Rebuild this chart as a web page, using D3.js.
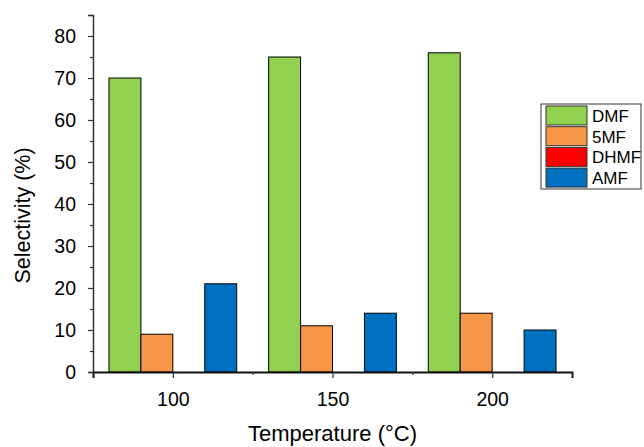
<!DOCTYPE html>
<html>
<head>
<meta charset="utf-8">
<script src="https://cdn.jsdelivr.net/npm/d3@7"></script>
<style>
  html, body { margin: 0; padding: 0; background: #fff; }
  svg { display: block; font-family: "Liberation Sans", Arial, sans-serif; }
</style>
</head>
<body>
<svg id="chart" width="644" height="447"></svg>
<script>
// Reaction temperatures (°C) and product selectivities (%)
const temperatures = [100, 150, 200];
const seriesNames = ["DMF", "5MF", "DHMF", "AMF"];
const seriesColors = ["#92D050", "#F79646", "#FF0000", "#0070C0"];
const dmfValues  = [70, 75, 76];
const mfValues   = [9, 11, 14];
const dhmfValues = [0, 0, 0];
const amfValues  = [21, 14, 10];
const xTickValues = [100, 150, 200];
const yTickValues = [0, 10, 20, 30, 40, 50, 60, 70, 80];

const seriesValues = [dmfValues, mfValues, dhmfValues, amfValues];
// Each bar spans 10 °C; the four series sit side by side around each temperature
const barSpan = 10;
const seriesOffsets = [-20, -10, 0, 10];

const svg = d3.select("#chart");
const margin = { left: 93, right: 72, top: 15, bottom: 75 };
const W = 644, H = 447;

const x = d3.scaleLinear().domain([75, 225]).range([margin.left, W - margin.right]);
const y = d3.scaleLinear().domain([0, 85]).range([H - margin.bottom, margin.top]);

// Bars
const bars = [];
seriesValues.forEach((vals, si) => {
  vals.forEach((v, ti) => {
    bars.push({ s: si, t: temperatures[ti], v });
  });
});
svg.append("g").selectAll("rect")
  .data(bars.filter(d => d.v > 0))
  .join("rect")
  .attr("x", d => x(d.t + seriesOffsets[d.s]))
  .attr("width", d => x(d.t + seriesOffsets[d.s] + barSpan) - x(d.t + seriesOffsets[d.s]))
  .attr("y", d => y(d.v))
  .attr("height", d => y(0) - y(d.v))
  .attr("fill", d => seriesColors[d.s])
  .attr("stroke", "#000")
  .attr("stroke-width", 1);

// Y axis: major ticks with labels, minor ticks between
const yAxis = svg.append("g").attr("transform", `translate(${margin.left},0)`);
yAxis.call(d3.axisLeft(y).tickValues(yTickValues).tickSize(5).tickPadding(12).tickFormat(d3.format("d")));
yAxis.append("g").call(d3.axisLeft(y).tickValues(d3.range(5, 90, 10)).tickSize(3).tickFormat(""));
yAxis.selectAll(".domain").attr("stroke", "#333").attr("stroke-width", 1.5);
yAxis.selectAll("g g .domain").remove();
yAxis.selectAll("line").attr("stroke", "#333").attr("stroke-width", 1.2);
yAxis.selectAll("text").attr("font-size", 19.5).attr("fill", "#000")
  .attr("font-family", "Liberation Sans, Arial, sans-serif");

// X axis
const xAxis = svg.append("g").attr("transform", `translate(0,${y(0)})`);
xAxis.call(d3.axisBottom(x).tickValues(xTickValues).tickSize(6).tickPadding(14).tickFormat(d3.format("d")));
xAxis.append("g").call(d3.axisBottom(x).tickValues([75, 125, 175, 225]).tickSize(3).tickFormat(""));
xAxis.select(".domain").attr("stroke", "#111").attr("stroke-width", 2);
xAxis.selectAll("g g .domain").remove();
xAxis.selectAll("line").attr("stroke", "#333").attr("stroke-width", 1.2);
xAxis.selectAll("text").attr("font-size", 19.5).attr("fill", "#000")
  .attr("font-family", "Liberation Sans, Arial, sans-serif");

// Axis titles
svg.append("text")
  .attr("transform", `translate(30,${(margin.top + H - margin.bottom) / 2 + 22}) rotate(-90)`)
  .attr("text-anchor", "middle")
  .attr("font-size", 21.5)
  .text("Selectivity (%)");
svg.append("text")
  .attr("x", (x(75) + x(225)) / 2)
  .attr("y", 441)
  .attr("text-anchor", "middle")
  .attr("font-size", 22)
  .text("Temperature (°C)");

// Legend
const legend = svg.append("g").attr("transform", "translate(541,104)");
legend.append("rect")
  .attr("width", 100).attr("height", 85)
  .attr("fill", "#fff").attr("stroke", "#333").attr("stroke-width", 1);
const rowH = 20.7;
seriesNames.forEach((name, i) => {
  legend.append("rect")
    .attr("x", 5).attr("y", 2 + i * rowH)
    .attr("width", 41).attr("height", 19)
    .attr("fill", seriesColors[i]).attr("stroke", "#333").attr("stroke-width", 1);
  legend.append("text")
    .attr("x", 51).attr("y", 2 + i * rowH + 16)
    .attr("font-size", 17)
    .text(name);
});
</script>
</body>
</html>
